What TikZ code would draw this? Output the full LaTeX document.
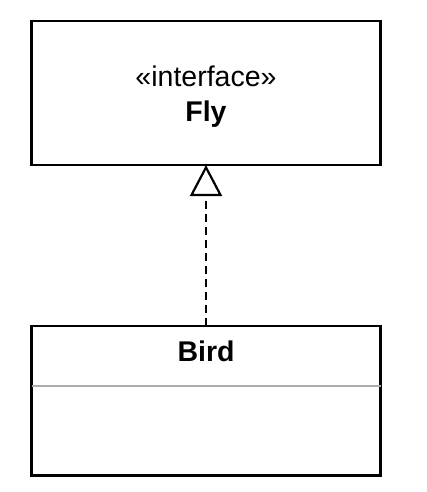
\documentclass[tikz,border=0pt]{standalone}
\usepackage{fontspec}
\setmainfont{Liberation Sans}
\usetikzlibrary{positioning,arrows.meta}

\begin{document}
\begin{tikzpicture}[x=1pt,y=-1pt,
  umlbox/.style = {draw, line width=2.4pt, outer sep=0pt, minimum width=349pt},
  big/.style = {font=\fontsize{28.5}{35}\selectfont, inner sep=0pt},
  realize/.style = {line width=2.2pt, dash pattern=on 8pt off 5pt,
    -{Triangle[open,length=31pt,width=32pt]}}]
\useasboundingbox (0,0) rectangle (426,492);
\node[umlbox, minimum height=144pt] (fly) at (206,93) {};
\node[big, align=center] (flyname) at ([yshift=-4pt]fly.center) {«interface»\\\textbf{Fly}};
\node[umlbox, minimum height=149.5pt] (bird) [below=161pt of fly] {};
\node[big] (birdname) [below=14.5pt of bird.north] {\textbf{Bird}};
\draw[gray!65, line width=2pt] ([yshift=-59.7pt]bird.north west) -- ([yshift=-59.7pt]bird.north east);
\draw[realize] (bird) -- (fly);
\end{tikzpicture}
\end{document}
